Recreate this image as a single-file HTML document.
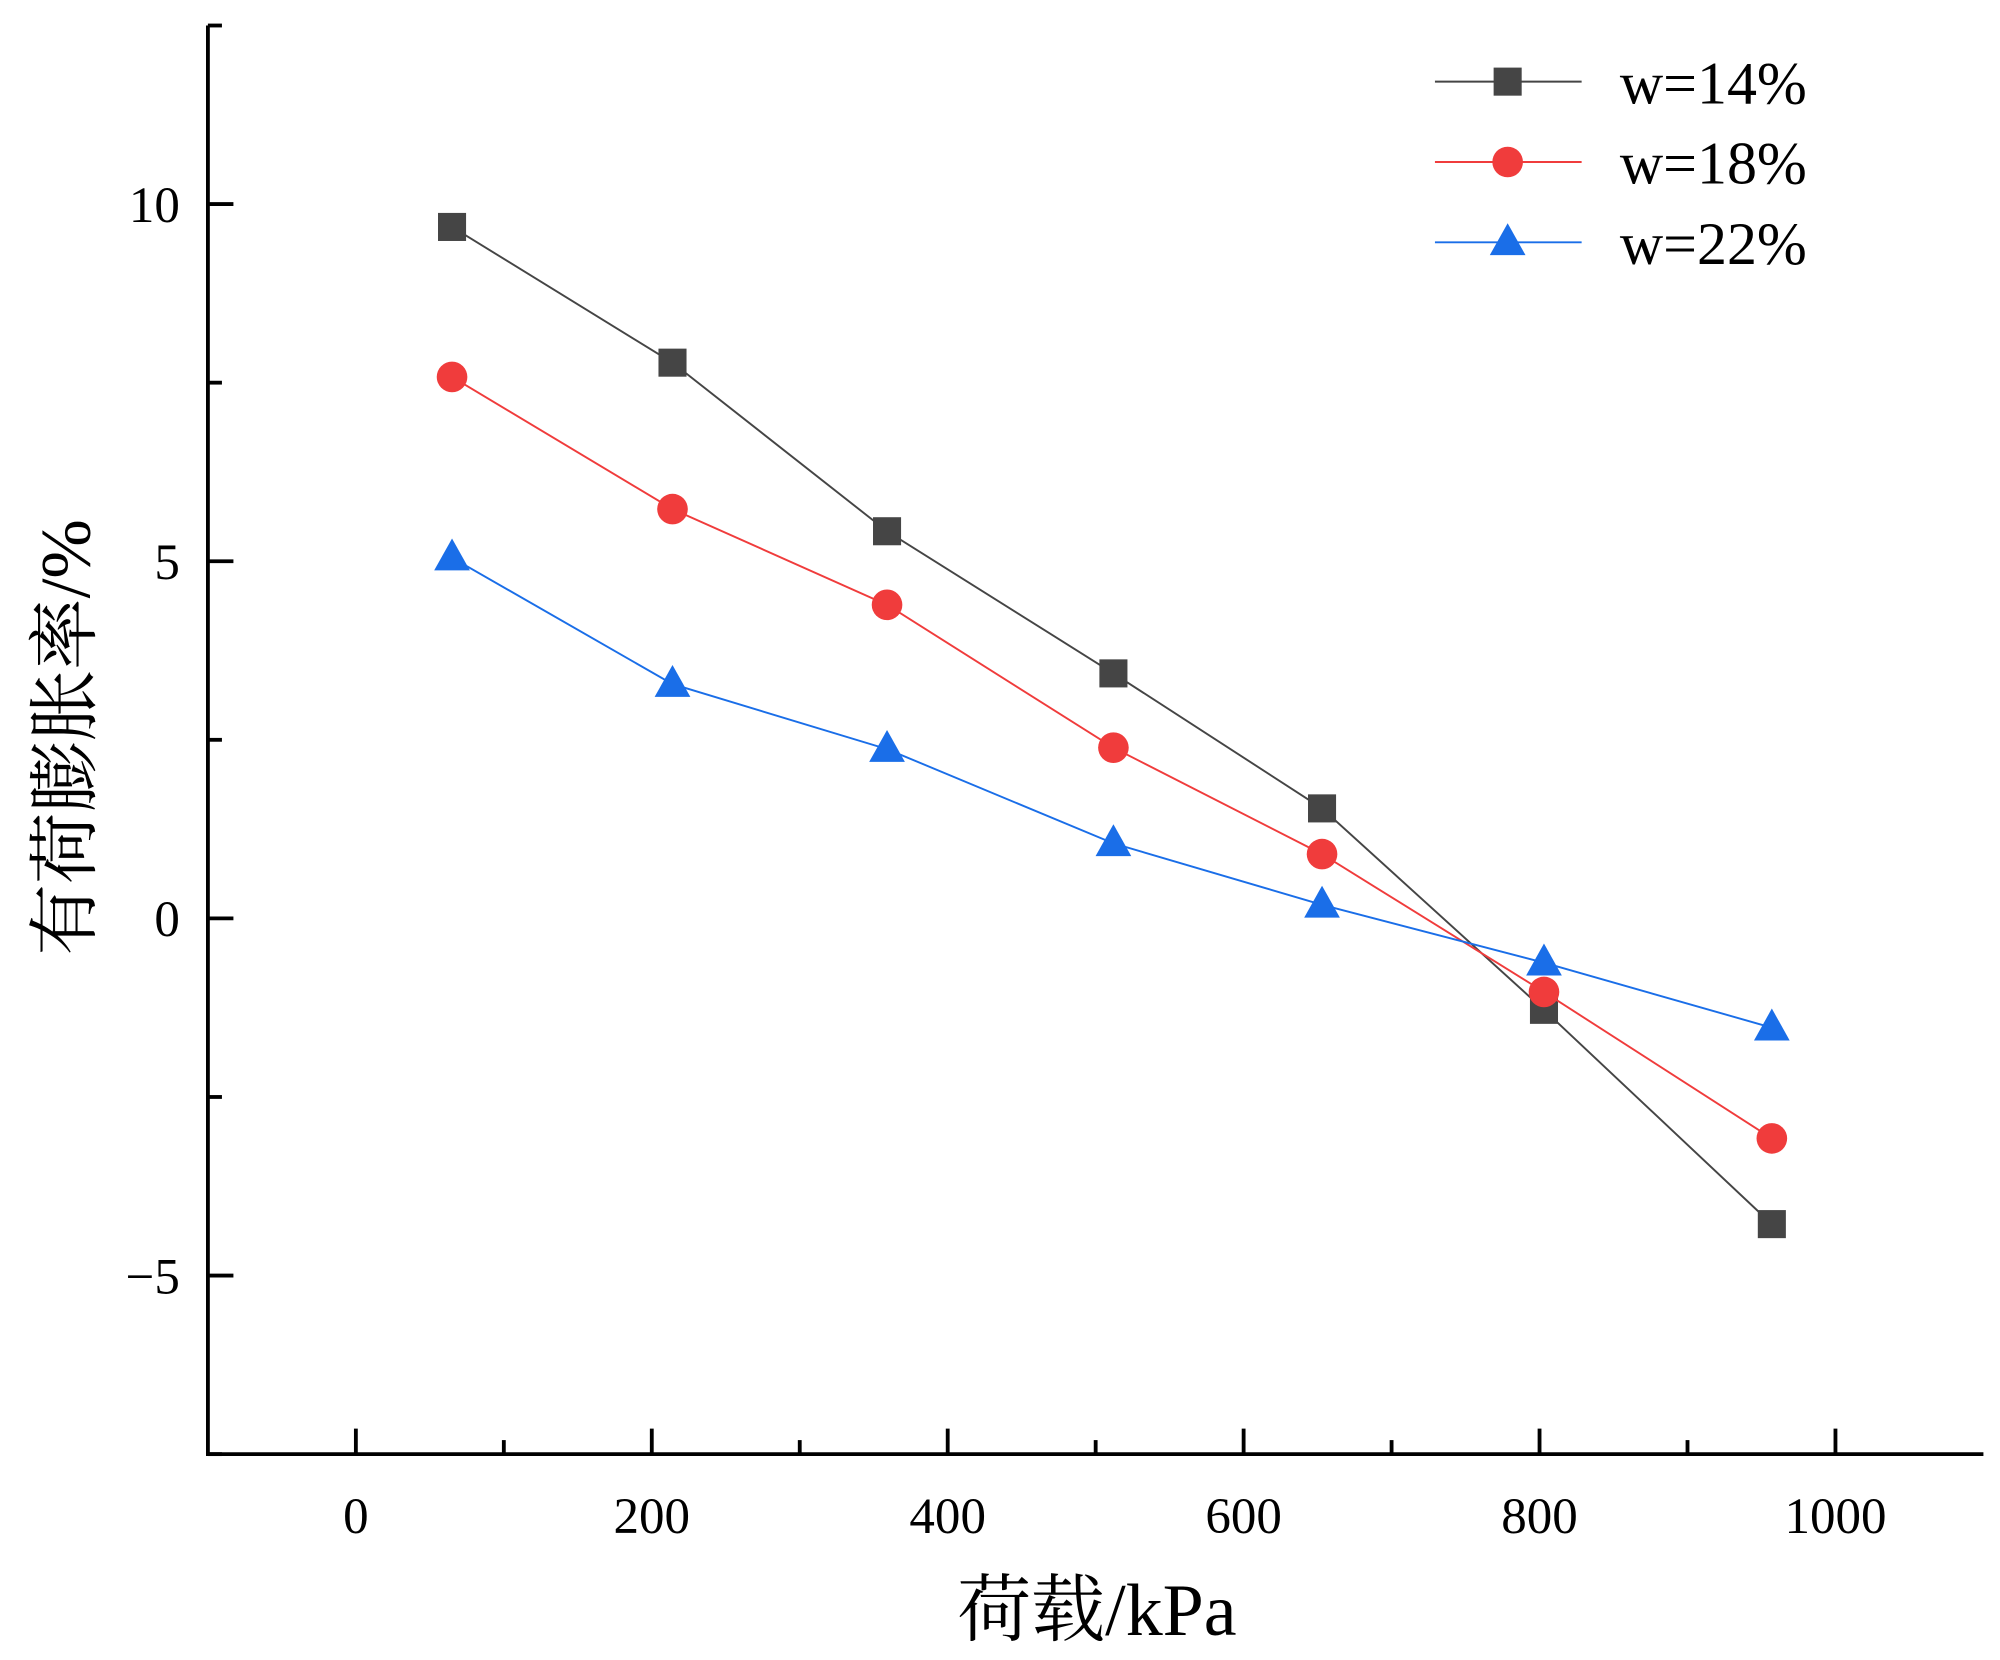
<!DOCTYPE html>
<html><head><meta charset="utf-8"><style>
html,body{margin:0;padding:0;background:#fff}
svg{display:block}
text{font-family:"Liberation Serif","Noto Serif CJK SC","Noto Sans CJK SC",serif;fill:#000}
</style></head><body>
<svg id="chart" width="2000" height="1660" viewBox="0 0 1568 1301.4" preserveAspectRatio="none" xmlns="http://www.w3.org/2000/svg">
<g id="axes"></g>
<g id="series"></g>
<g id="legend"></g>
<text transform="translate(70,578) rotate(-90)" text-anchor="middle" font-size="56">有荷膨胀率/%</text>
<text x="860" y="1282" text-anchor="middle" font-size="58">荷载/kPa</text>
</svg>
<script>
const loads = [65, 214, 359, 512, 653, 803, 957];
const w14 = [9.68, 7.78, 5.42, 3.43, 1.54, -1.28, -4.28];
const w18 = [7.58, 5.73, 4.39, 2.39, 0.9, -1.03, -3.08];
const w22 = [5.05, 3.28, 2.37, 1.05, 0.19, -0.62, -1.53];
const seriesNames = ["w=14%", "w=18%", "w=22%"];
const xTickLabels = [0, 200, 400, 600, 800, 1000];
const yTickLabels = [-5, 0, 5, 10];

const NS = "http://www.w3.org/2000/svg";
const L = 163, R = 1555, T = 20, B = 1140;
const xMin = -100, xMax = 1100, yMin = -7.5, yMax = 12.5;
const xs = v => L + (v - xMin) / (xMax - xMin) * (R - L);
const ys = v => B - (v - yMin) / (yMax - yMin) * (B - T);
function mk(tag, attrs, parent) {
  const e = document.createElementNS(NS, tag);
  for (const k in attrs) e.setAttribute(k, attrs[k]);
  parent.appendChild(e);
  return e;
}
const axes = document.getElementById("axes");
let e;
e = mk("line", {x1: L, y1: T, x2: L, y2: B, stroke: "#000", "stroke-width": 3}, axes);


e = mk("line", {x1: L - 1.5, y1: B, x2: R, y2: B, stroke: "#000", "stroke-width": 3}, axes);


for (let v = 0; v <= 1000; v += 100) {
  const major = v % 200 === 0;
  e = mk("line", {x1: xs(v), y1: B, x2: xs(v), y2: B - (major ? 20 : 11), stroke: "#000", "stroke-width": 3}, axes);
  
  
}
xTickLabels.forEach(v => {
  e = mk("text", {x: xs(v), y: B + 62, "text-anchor": "middle", "font-size": 40}, axes);
  e.textContent = v;
  
  
});
for (let v = -7.5; v <= 12.5; v += 2.5) {
  const major = Math.abs(v % 5) < 1e-9;
  e = mk("line", {x1: L, y1: ys(v), x2: L + (major ? 20 : 11), y2: ys(v), stroke: "#000", "stroke-width": 3}, axes);
  
  
}
yTickLabels.forEach(v => {
  e = mk("text", {x: L - 22, y: ys(v) + 14, "text-anchor": "end", "font-size": 40}, axes);
  e.textContent = v < 0 ? "−" + (-v) : v;
  
  
});
const colors = ["#454545", "#f03c3c", "#1a6ee8"];
const shapes = ["square", "circle", "triangle"];
function marker(shape, cx, cy, color, parent) {
  let m;
  if (shape === "square") m = mk("rect", {x: cx - 11, y: cy - 11, width: 22, height: 22, fill: color}, parent);
  else if (shape === "circle") m = mk("circle", {cx: cx, cy: cy, r: 12, fill: color}, parent);
  else m = mk("polygon", {points: `${cx},${cy-15} ${cx+14},${cy+10} ${cx-14},${cy+10}`, fill: color}, parent);
  return m;
}
const sg = document.getElementById("series");
[w14, w18, w22].forEach((vals, i) => {
  const pts = loads.map((x, j) => xs(x) + "," + ys(vals[j])).join(" ");
  e = mk("polyline", {points: pts, fill: "none", stroke: colors[i], "stroke-width": 1.5}, sg);
  
  
  loads.forEach((x, j) => {
    e = marker(shapes[i], xs(x), ys(vals[j]), colors[i], sg);
    
    
  });
});
const lg = document.getElementById("legend");
seriesNames.forEach((n, i) => {
  const y = 64 + i * 63;
  e = mk("line", {x1: 1125, y1: y, x2: 1240, y2: y, stroke: colors[i], "stroke-width": 1.5}, lg);
  
  
  e = marker(shapes[i], 1182, y, colors[i], lg);
  
  
  e = mk("text", {x: 1270, y: y + 17, "font-size": 47}, lg);
  e.textContent = n;
  
  
});
</script>
</body></html>
